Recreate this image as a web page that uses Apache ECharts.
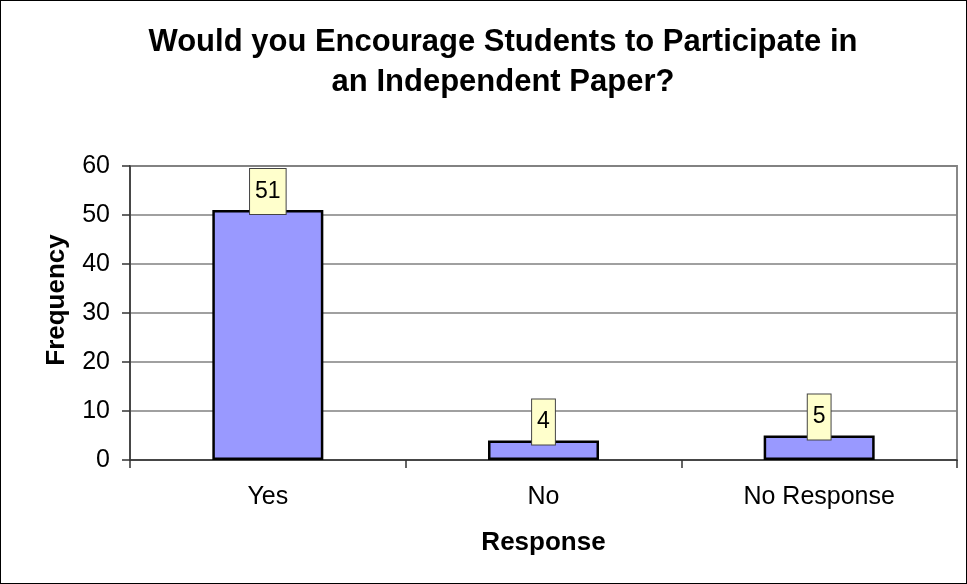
<!DOCTYPE html>
<html><head><meta charset="utf-8">
<script src="https://cdn.jsdelivr.net/npm/echarts@6/dist/echarts.min.js"></script>
<style>html,body{margin:0;padding:0;background:#fff}#c{width:967px;height:584px;box-sizing:border-box;border:1px solid #000}</style>
</head><body><div id="c"></div>
<script>
const categories = ['Yes', 'No', 'No Response'];
const frequency = [51, 4, 5];
const yTicks = [0, 10, 20, 30, 40, 50, 60];

const chart = echarts.init(document.getElementById('c'));
const font = '"Liberation Sans", Arial, sans-serif';
chart.setOption({
  animation: false,
  title: {
    text: 'Would you Encourage Students to Participate in\nan Independent Paper?',
    left: 497, top: 16, textAlign: 'center',
    textStyle: {fontFamily: font, fontSize: 31, fontWeight: 'bold', color: '#000', lineHeight: 40}
  },
  grid: {left: 129, right: 9, top: 165, bottom: 123, show: true, borderColor: '#888', borderWidth: 2, backgroundColor: 'transparent'},
  xAxis: {
    type: 'category', data: categories,
    name: 'Response', nameLocation: 'middle', nameGap: 70,
    nameTextStyle: {fontFamily: font, fontSize: 26, fontWeight: 'bold', color: '#000'},
    axisLine: {lineStyle: {color: '#333', width: 1.5}},
    axisTick: {show: true, alignWithLabel: false, length: 8, lineStyle: {color: '#333', width: 1.5}},
    axisLabel: {fontFamily: font, fontSize: 25, color: '#000', margin: 25}
  },
  yAxis: {
    type: 'value', min: yTicks[0], max: yTicks[yTicks.length - 1], interval: 10,
    name: 'Frequency', nameLocation: 'middle', nameGap: 60, nameRotate: 90,
    nameTextStyle: {fontFamily: font, fontSize: 26, fontWeight: 'bold', color: '#000', padding: [0, 0, 0, 26]},
    axisLine: {show: true, lineStyle: {color: '#333', width: 1.5}},
    axisTick: {show: true, length: 8, lineStyle: {color: '#333', width: 1.5}},
    axisLabel: {fontFamily: font, fontSize: 25, color: '#000', margin: 20},
    splitLine: {lineStyle: {color: '#808080', width: 1.5}}
  },
  series: [{
    type: 'bar', data: frequency, barWidth: 111,
    itemStyle: {color: '#9999FF', borderColor: '#000', borderWidth: 2.5},
    label: {
      show: true, position: 'top', distance: -4,
      fontFamily: font, fontSize: 23, color: '#000',
      backgroundColor: '#FFFFCC', borderColor: '#444', borderWidth: 1,
      padding: [11, 5, 11, 5], lineHeight: 23
    }
  }]
});
</script></body></html>
